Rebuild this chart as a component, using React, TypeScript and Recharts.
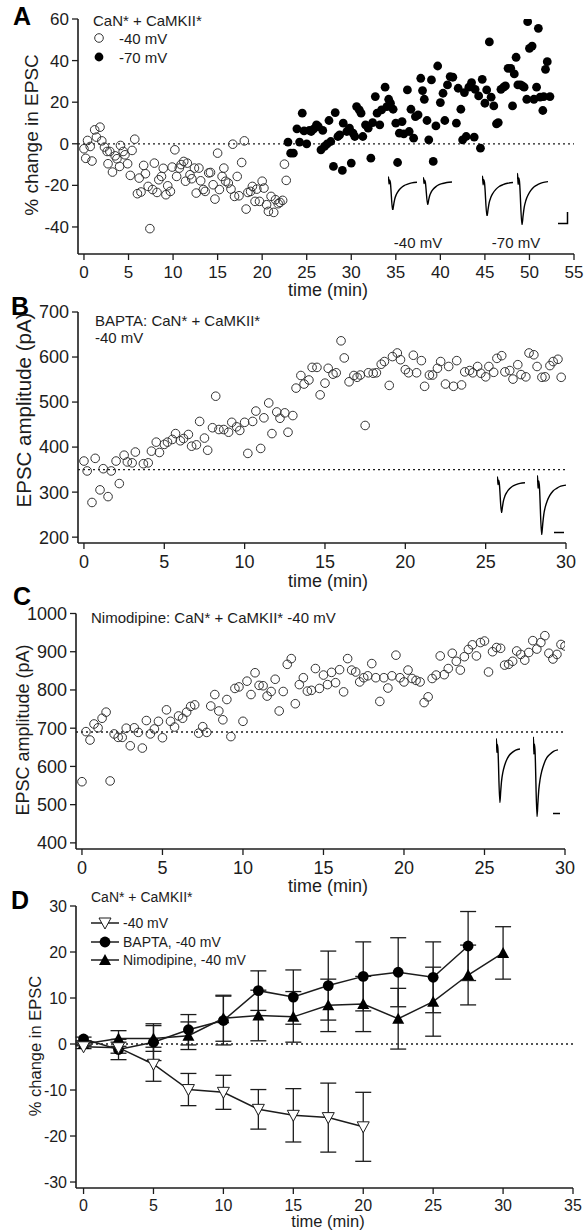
import React from "react";
import { ScatterChart, Scatter, XAxis, YAxis, ReferenceLine, ErrorBar, LineChart, Line } from "recharts";

const FONT = '"Liberation Sans", Arial, Helvetica, sans-serif';
const INK = "#1c1c1c";

// ---- panel A: CaN* + CaMKII*, % change in EPSC
const A_T40 = [0,0.2,0.4,0.7,0.9,1.2,1.4,1.8,2.0,2.3,2.6,2.7,2.9,3.2,3.5,3.7,4.0,4.1,4.4,4.6,4.9,5.2,5.4,5.7,6.0,6.2,6.4,6.7,6.9,7.2,7.4,7.7,7.9,8.2,8.4,8.7,8.9,9.2,9.4,9.7,9.9,10.2,10.4,10.7,10.9,11.2,11.4,11.6,11.9,12.1,12.4,12.6,12.9,13.1,13.4,13.6,14.0,14.2,14.5,14.7,15.0,15.2,15.5,15.7,15.9,16.2,16.5,16.7,16.9,17.2,17.4,17.7,18.0,18.2,18.4,18.7,18.9,19.2,19.4,19.7,20.0,20.2,20.5,20.7,21.0,21.3,21.5,21.8,22.0,22.3,22.5,22.7];
const A_V40 = [-2.4,-7,1.6,-1.3,-8.3,6.7,3.2,8,1.4,-1.6,-3.7,-9.6,-3.7,-13.6,-5.8,-7.2,-10.9,-0.8,-3.7,-5.3,-9.6,-15.2,-3.2,2.2,-24,-16.5,-23.2,-10.4,-14.4,-20.5,-40.8,-22,-9.3,-23.4,-17.3,-15.7,-11.8,-24.5,-20.2,-22.9,-11.2,-2.9,-15.7,-11.7,-10,-8.5,-18,-9.3,-14.9,-16.8,-11.7,-23.7,-11.7,-17.8,-22,-22.9,-14,-13.8,-19.7,-26.6,-4.5,-22,-15.7,-11.7,-18,-18.9,-21.8,-0.2,-25.3,-15.7,-25,-9,1.4,-31.4,-23.4,-22.9,-20.5,-27.7,-21.8,-27.7,-18,-21.3,-29.3,-32.5,-25.3,-33,-26.9,-28.8,-28.2,-27.2,-9.8,-17.6];
const A_T70 = [22.9,23.2,23.5,23.9,24.2,24.5,24.7,25.0,25.3,25.5,25.8,26.1,26.3,26.6,26.8,27.0,27.3,27.5,27.7,28.0,28.2,28.5,28.7,29.0,29.1,29.5,29.8,30.0,30.2,30.4,30.6,30.9,31.1,31.3,31.6,31.9,32.2,32.4,32.7,32.9,33.2,33.4,33.8,34.0,34.2,34.4,34.7,35.0,35.2,35.4,35.7,35.9,36.3,36.5,36.7,37.0,37.2,37.5,37.8,38.0,38.2,38.5,38.7,39.0,39.2,39.5,39.7,40.0,40.3,40.5,40.8,41.1,41.4,41.8,42.0,42.3,42.5,42.7,42.9,43.2,43.5,43.8,43.9,44.3,44.5,44.7,45.0,45.2,45.5,45.7,46.0,46.3,46.5,46.8,47.1,47.3,47.6,47.9,48.1,48.3,48.5,48.7,49.0,49.2,49.4,49.7,49.8,50.0,50.3,50.5,50.8,51.0,51.2,51.5,51.6,51.8,52.0,52.3];
const A_V70 = [0.8,-4.5,-4.5,7.2,0.8,14.7,6.2,0,6.4,5.9,7.2,9.1,8.3,-2.9,6.4,-1.3,0,11.2,1.1,-10.9,15,3.5,4.3,-12.8,9.9,5.9,7.5,-9.3,5.1,3.5,17.9,16.3,14.7,3.5,9.1,7.5,-6.9,10.2,22.7,14.7,9.1,16.3,27.2,17.9,21.4,19.5,16.6,9.9,-9,5.1,10.7,4.8,25.9,5.9,16.6,2.7,13.1,13.9,31.5,25.6,21.4,11.2,1.9,30.7,-8.5,8.6,37.4,19.8,24.3,11.2,28.3,32.3,32,9.9,26.7,16.6,1.9,24.6,3.5,27.2,29.4,3.2,26.2,23,-2.1,31,19.5,25.9,49,22.4,18.2,9.6,10.2,26.2,27.2,27.8,36.3,36.3,18.2,33.6,41.6,28.3,28.3,27.8,27.2,21.4,58.7,45.9,47,21.4,27.2,55.5,22.4,16,22.7,35.8,39.5,22.7];
const A_XTICKS = [0,5,10,15,20,25,30,35,40,45,50,55];
const A_YTICKS = [-40,-20,0,20,40,60];

// ---- panel B: BAPTA, EPSC amplitude (pA)
const B_T = [0,0.2,0.5,0.7,1.0,1.2,1.5,1.7,2.0,2.2,2.5,2.7,3.0,3.2,3.7,4.0,4.2,4.5,4.7,5.0,5.2,5.5,5.7,6.0,6.2,6.5,6.7,7.0,7.2,7.5,7.7,8.0,8.2,8.4,8.7,9.0,9.2,9.5,9.7,10.0,10.2,10.5,10.7,11.0,11.2,11.5,11.7,12.0,12.2,12.5,12.7,13.0,13.2,13.5,13.7,14.0,14.2,14.5,14.7,15.0,15.2,15.5,15.7,16.0,16.2,16.5,16.8,17.0,17.2,17.5,17.7,18.0,18.2,18.5,18.7,19.0,19.2,19.5,19.7,20.0,20.2,20.5,20.7,21.0,21.2,21.5,21.7,22.0,22.2,22.5,22.7,23.0,23.2,23.5,23.7,24.0,24.2,24.5,24.7,25.0,25.2,25.5,25.7,26.0,26.2,26.5,26.7,27.0,27.2,27.5,27.7,28.0,28.2,28.5,28.7,29.0,29.2,29.5,29.7];
const B_V = [369,347,277,375,305,352,290,347,369,319,382,367,365,389,363,365,391,411,388,406,411,417,430,414,419,428,402,405,457,420,393,443,513,439,439,433,455,445,437,455,386,457,480,397,465,498,430,478,464,476,433,470,531,559,540,549,577,577,516,542,575,562,565,636,598,545,559,555,560,448,565,564,565,584,590,537,601,609,594,572,565,604,565,592,535,560,560,575,590,540,579,535,592,538,567,570,565,579,564,556,579,566,597,603,567,570,551,583,561,556,609,605,579,555,556,581,590,595,555];
const B_BASE = 350;
const B_XTICKS = [0,5,10,15,20,25,30];
const B_YTICKS = [200,300,400,500,600,700];

// ---- panel C: Nimodipine, EPSC amplitude (pA)
const C_T = [0,0.25,0.5,0.75,1,1.25,1.5,1.75,2,2.25,2.5,2.75,3,3.25,3.5,3.75,4,4.25,4.5,4.75,5,5.25,5.5,5.75,6,6.25,6.5,6.75,7,7.25,7.5,7.75,8,8.25,8.5,8.75,9,9.25,9.5,9.75,10,10.25,10.5,10.75,11,11.25,11.5,11.75,12,12.25,12.5,12.75,13,13.25,13.5,13.75,14,14.25,14.5,14.75,15,15.25,15.5,15.75,16,16.25,16.5,16.75,17,17.25,17.5,17.75,18,18.25,18.5,18.75,19,19.25,19.5,19.75,20,20.25,20.5,20.75,21,21.25,21.5,21.75,22,22.25,22.5,22.75,23,23.25,23.5,23.75,24,24.25,24.5,24.75,25,25.25,25.5,25.75,26,26.25,26.5,26.75,27,27.25,27.5,27.75,28,28.25,28.5,28.75,29,29.25,29.5,29.75,30];
const C_V = [560,691,669,711,701,726,742,562,685,676,676,700,654,701,689,648,720,685,698,718,675,748,718,703,732,726,742,757,761,687,704,689,758,788,745,722,775,678,804,808,718,823,788,845,812,811,784,796,828,745,796,867,882,764,814,832,797,799,856,804,839,814,846,819,853,795,882,852,847,821,832,837,869,832,770,832,805,837,891,832,821,852,830,825,821,767,782,830,839,889,840,856,896,875,852,887,906,918,889,924,928,847,900,911,909,865,867,875,902,893,878,898,929,907,924,942,896,881,893,919,915];
const C_BASE = 690;
const C_YTICKS = [400,500,600,700,800,900,1000];

// ---- panel D: mean % change +/- SEM
const D_T = [0,2.5,5,7.5,10,12.5,15,17.5,20,22.5,25,27.5,30];
const D_CTRL = [-0.6,-0.8,-4.4,-9.9,-10.5,-14.2,-15.5,-16,-18];
const D_CTRL_ERR = [0.4,1.2,3.7,3.5,3.7,4.3,5.8,7.5,7.5];
const D_BAPTA = [1.1,-1.2,0.4,3.1,5.1,11.6,10.2,12.7,14.7,15.6,14.5,21.3];
const D_BAPTA_ERR = [0.4,2.2,4.0,3.3,5.3,4.3,5.9,7.5,7.5,7.5,7.7,7.5];
const D_NIMO = [0,1.2,1.2,1.8,5.6,6.2,5.9,8.4,8.7,5.5,9.2,15.0,19.8];
const D_NIMO_ERR = [0.4,1.7,2.8,3.0,5.0,5.5,5.5,5.7,6.0,6.6,7.5,6.5,5.7];
const D_XTICKS = [0,5,10,15,20,25,30,35];
const D_YTICKS = [-30,-20,-10,0,10,20,30];

// example EPSC trace shape (normalised)
const TRACE_X = [0,0.5,1.0,1.6,2.2,4.5,5.5,6.5,8,10,12.5,15.5,19,23,28];
const TRACE_Y = [0,0.12,-0.12,0.02,-0.05,-1,-0.8,-0.62,-0.47,-0.35,-0.25,-0.17,-0.12,-0.08,-0.06];

const zip = (t: number[], v: number[], e?: number[]) =>
  v.map((val, i) => ({ t: t[i], v: val, e: e ? e[i] : 0 }));

const openDot = (p: any) => <circle cx={p.cx} cy={p.cy} r={4.3} fill="none" stroke="#333" strokeWidth={1} />;
const fullDot = (p: any) => <circle cx={p.cx} cy={p.cy} r={4.4} fill="#000" />;
const bigDot = (p: any) => <circle cx={p.cx} cy={p.cy} r={5.4} fill="#000" />;
const triDown = (p: any) => (
  <polygon points={`${p.cx - 6},${p.cy - 5} ${p.cx + 6},${p.cy - 5} ${p.cx},${p.cy + 6}`} fill="#fff" stroke={INK} strokeWidth={1} />
);
const triUp = (p: any) => (
  <polygon points={`${p.cx - 6},${p.cy + 5} ${p.cx + 6},${p.cy + 5} ${p.cx},${p.cy - 6}`} fill="#000" />
);

type Plot = { left: number; right: number; top: number; bottom: number };

function Panel(props: {
  top: number; height: number; plot: Plot; fs: number;
  xDomain: number[]; xTicks: number[]; yDomain: number[]; yTicks: number[];
  children: React.ReactNode;
}) {
  const { top, height, plot, fs } = props;
  const xh = 40;
  const margin = { top: plot.top - top, right: 586 - plot.right, left: 0, bottom: top + height - plot.bottom - xh };
  const tick = { fill: INK, fontSize: fs, fontFamily: FONT };
  return (
    <div style={{ position: "absolute", left: 0, top }}>
      <ScatterChart width={586} height={height} margin={margin}>
        <XAxis type="number" dataKey="t" domain={props.xDomain} ticks={props.xTicks} allowDataOverflow height={xh}
          tick={tick} tickSize={6} tickMargin={6} axisLine={{ stroke: INK, strokeWidth: 1.6 }} tickLine={{ stroke: INK, strokeWidth: 1.3 }} />
        <YAxis type="number" dataKey="v" domain={props.yDomain} ticks={props.yTicks} allowDataOverflow width={plot.left}
          tick={tick} tickSize={6} tickMargin={3} axisLine={{ stroke: INK, strokeWidth: 1.6 }} tickLine={{ stroke: INK, strokeWidth: 1.3 }} />
        {props.children}
      </ScatterChart>
    </div>
  );
}

function Trace({ left, width, base, amp }: { left: number; width: number; base: number; amp: number }) {
  const head = 0.15;
  const data = TRACE_X.map((x, i) => ({ x, y: TRACE_Y[i] }));
  return (
    <div style={{ position: "absolute", left, top: base - head * amp }}>
      <LineChart width={width} height={amp * (1 + head)} data={data} margin={{ top: 0, right: 0, bottom: 0, left: 0 }}>
        <XAxis type="number" dataKey="x" domain={[0, 28]} hide />
        <YAxis type="number" domain={[-1, head]} hide />
        <Line dataKey="y" type="monotone" stroke="#000" strokeWidth={1.4} dot={false} isAnimationActive={false} />
      </LineChart>
    </div>
  );
}

// svg text helpers (labels share the tick labels' rendering)
const T = (x: number, y: number, fs: number, s: string, anchor: "start" | "middle" = "start", bold = false) => (
  <text x={x} y={y} fontSize={fs} fill={bold ? "#000" : INK} fontWeight={bold ? "bold" : "normal"}
    textAnchor={anchor} dominantBaseline="central">{s}</text>
);
const V = (x: number, y: number, fs: number, s: string) => (
  <text x={x} y={y} fontSize={fs} fill={INK} textAnchor="middle" dominantBaseline="central"
    transform={`rotate(-90 ${x} ${y})`}>{s}</text>
);

export default function App() {
  const a40 = zip(A_T40, A_V40);
  const a70 = zip(A_T70, A_V70);
  const b = zip(B_T, B_V);
  const c = zip(C_T, C_V);
  const dCtrl = zip(D_T, D_CTRL, D_CTRL_ERR);
  const dBapta = zip(D_T, D_BAPTA, D_BAPTA_ERR);
  const dNimo = zip(D_T, D_NIMO, D_NIMO_ERR);
  const dash = { stroke: INK, strokeDasharray: "2 3", strokeWidth: 1.3 };

  return (
    <div style={{ position: "absolute", left: 0, top: 0, width: 586, height: 1232, background: "#fff", fontFamily: FONT, overflow: "hidden" }}>
      <Panel top={0} height={310} plot={{ left: 78, right: 574, top: 19, bottom: 254 }} fs={17}
        xDomain={[-0.67, 55]} xTicks={A_XTICKS} yDomain={[-53, 60]} yTicks={A_YTICKS}>
        <ReferenceLine y={0} {...dash} />
        <Scatter data={a40} shape={openDot} isAnimationActive={false} />
        <Scatter data={a70} shape={fullDot} isAnimationActive={false} />
      </Panel>
      <Trace left={388} width={29} base={180} amp={30} />
      <Trace left={423} width={29} base={181} amp={24} />
      <Trace left={482} width={31} base={180} amp={36} />
      <Trace left={517} width={31} base={179} amp={46} />

      <Panel top={290} height={300} plot={{ left: 78, right: 566, top: 312, bottom: 543 }} fs={18}
        xDomain={[-0.37, 30]} xTicks={B_XTICKS} yDomain={[187, 700]} yTicks={B_YTICKS}>
        <ReferenceLine y={B_BASE} {...dash} />
        <Scatter data={b} shape={openDot} isAnimationActive={false} />
      </Panel>
      <Trace left={497} width={28} base={481} amp={32} />
      <Trace left={537} width={29} base={482} amp={53} />

      <Panel top={595} height={300} plot={{ left: 76, right: 565, top: 613.5, bottom: 849 }} fs={18}
        xDomain={[-0.37, 30]} xTicks={B_XTICKS} yDomain={[384, 1000]} yTicks={C_YTICKS}>
        <ReferenceLine y={C_BASE} {...dash} />
        <Scatter data={c} shape={openDot} isAnimationActive={false} />
      </Panel>
      <Trace left={496} width={24} base={746} amp={57} />
      <Trace left={533} width={25} base={746} amp={71} />

      <Panel top={890} height={342} plot={{ left: 76, right: 573, top: 906, bottom: 1188 }} fs={16}
        xDomain={[-0.54, 35]} xTicks={D_XTICKS} yDomain={[-31.3, 30]} yTicks={D_YTICKS}>
        <ReferenceLine y={0} {...dash} />
        <Scatter data={dBapta} shape={bigDot} line={{ stroke: INK, strokeWidth: 1.5 }} isAnimationActive={false}>
          <ErrorBar dataKey="e" direction="y" width={8} stroke={INK} strokeWidth={1.3} />
        </Scatter>
        <Scatter data={dNimo} shape={triUp} line={{ stroke: INK, strokeWidth: 1.5 }} isAnimationActive={false}>
          <ErrorBar dataKey="e" direction="y" width={8} stroke={INK} strokeWidth={1.3} />
        </Scatter>
        <Scatter data={dCtrl} shape={triDown} line={{ stroke: INK, strokeWidth: 1.5 }} isAnimationActive={false}>
          <ErrorBar dataKey="e" direction="y" width={8} stroke={INK} strokeWidth={1.3} />
        </Scatter>
      </Panel>

      <svg width={586} height={1232} style={{ position: "absolute", left: 0, top: 0, pointerEvents: "none" }} fontFamily={FONT}>
        {/* A */}
        {T(13, 16, 25, "A", "start", true)}
        {T(93, 20, 15, "CaN* + CaMKII*")}
        <circle cx={99} cy={38} r={4.3} fill="none" stroke="#333" />
        <circle cx={99} cy={57} r={4.4} fill="#000" />
        {T(119, 38, 15, "-40 mV")}
        {T(119, 57, 15, "-70 mV")}
        <polyline points="558,223.5 567.5,223.5 567.5,212" fill="none" stroke="#000" strokeWidth={1.5} />
        {T(418, 242, 15, "-40 mV", "middle")}
        {T(516, 242, 15, "-70 mV", "middle")}
        {T(328, 290, 18, "time (min)", "middle")}
        {V(31, 135, 19, "% change in EPSC")}
        {/* B */}
        {T(11, 306, 25, "B", "start", true)}
        {T(95, 320, 15, "BAPTA: CaN* + CaMKII*")}
        {T(95, 337, 15, "-40 mV")}
        <line x1={554} y1={532.5} x2={564} y2={532.5} stroke="#000" strokeWidth={1.5} />
        {T(328, 581, 18, "time (min)", "middle")}
        {V(23, 410, 20.5, "EPSC amplitude (pA)")}
        {/* C */}
        {T(13, 596, 25, "C", "start", true)}
        {T(91, 617, 15, "Nimodipine: CaN* + CaMKII* -40 mV")}
        <line x1={553} y1={813.5} x2={560} y2={813.5} stroke="#000" strokeWidth={1.5} />
        {T(328, 886, 18, "time (min)", "middle")}
        {V(23, 730, 18, "EPSC amplitude (pA)")}
        {/* D */}
        {T(11, 900, 25, "D", "start", true)}
        {T(91, 897, 14, "CaN* + CaMKII*")}
        <line x1={91} y1={923} x2={119} y2={923} stroke={INK} strokeWidth={1.5} />
        <polygon points="99,918 111,918 105,929" fill="#fff" stroke={INK} strokeWidth={1} />
        <line x1={91} y1={942} x2={119} y2={942} stroke={INK} strokeWidth={1.5} />
        <circle cx={105} cy={942} r={5.4} fill="#000" />
        <line x1={91} y1={960} x2={119} y2={960} stroke={INK} strokeWidth={1.5} />
        <polygon points="99,965 111,965 105,954" fill="#000" />
        {T(123, 923, 14, "-40 mV")}
        {T(123, 942, 14, "BAPTA, -40 mV")}
        {T(123, 960, 14, "Nimodipine, -40 mV")}
        {T(328, 1221, 16.5, "time (min)", "middle")}
        {V(35, 1046, 16.5, "% change in EPSC")}
      </svg>
    </div>
  );
}
